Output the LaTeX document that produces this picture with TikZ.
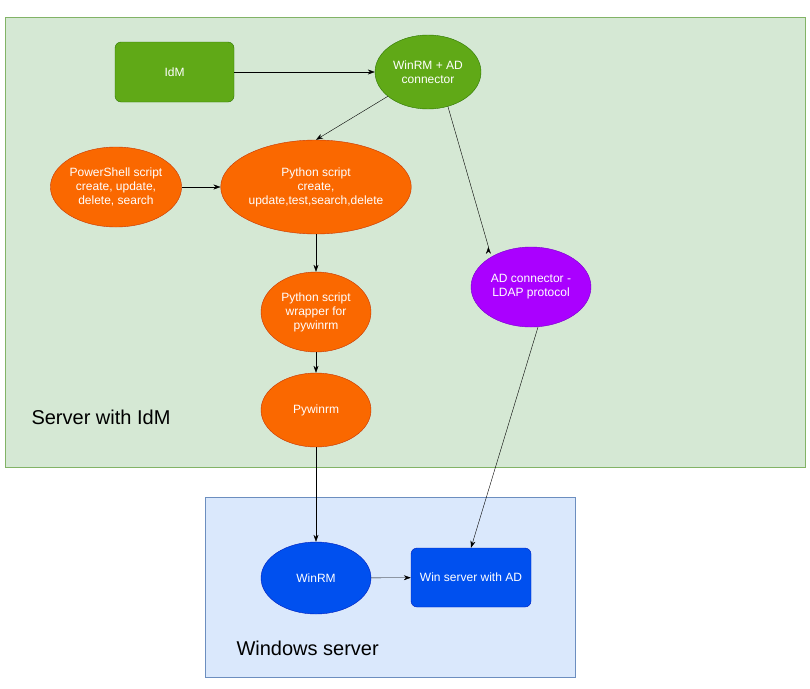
\documentclass[tikz,border=0pt]{standalone}
\usepackage{fontspec}
\setmainfont{Liberation Sans}
\usetikzlibrary{shapes.geometric,calc,arrows.meta}
\definecolor{gbg}{HTML}{D5E8D4}\definecolor{gbd}{HTML}{82B366}
\definecolor{bbg}{HTML}{DAE8FC}\definecolor{bbd}{HTML}{6C8EBF}
\definecolor{gf}{HTML}{60A917}\definecolor{gd}{HTML}{2D7600}
\definecolor{of}{HTML}{FA6800}\definecolor{od}{HTML}{C73500}
\definecolor{pf}{HTML}{AA00FF}\definecolor{pd}{HTML}{7700CC}
\definecolor{bf}{HTML}{0050EF}\definecolor{bd}{HTML}{001DBC}
\begin{document}
\begin{tikzpicture}[x=1pt,y=-1pt,
 txt/.style={text=white,font=\fontsize{12}{14}\selectfont,align=center,inner sep=0pt},
 ell/.style={txt,ellipse,minimum width=#1},
 gr/.style={fill=gf,draw=gd}, orn/.style={fill=of,draw=od},
 pur/.style={fill=pf,draw=pd}, blu/.style={fill=bf,draw=bd},
 arr/.style={-{Stealth[length=7pt,width=5pt]},black}]
\useasboundingbox (0,0) rectangle (810,688);
\draw[fill=gbg,draw=gbd] (5,17) rectangle (805,467);
\draw[fill=bbg,draw=bbd] (205,497) rectangle (575,677);
\node[anchor=west,font=\fontsize{20}{24}\selectfont] (l1) at (28,417) {Server with IdM};
\node[anchor=west,font=\fontsize{20}{24}\selectfont] (l2) at (233,648) {Windows server};
\node[txt,gr,rounded corners=6pt,minimum width=119,minimum height=60] (idm) at (174.5,72) {IdM};
\node[ell=106,minimum height=74,gr] (wad) at (428,72) {WinRM + AD\\connector};
\node[ell=122,minimum height=80,orn] (ps) at (116,187) {PowerShell script\\create, update,\\delete, search};
\node[ell=164,minimum height=94,orn] (py) at (316,187) {Python script\\create,\\update,test,search,delete};
\node[ell=110,minimum height=80,orn] (wr) at (316,312) {Python script\\wrapper for\\pywinrm};
\node[ell=110,minimum height=74,orn] (pw) at (316,410) {Pywinrm};
\node[ell=120,minimum height=80,pur] (ad) at (531,287) {AD connector -\\LDAP protocol};
\node[ell=110,minimum height=72,blu] (wi) at (316,578) {WinRM};
\node[txt,blu,rounded corners=6pt,minimum width=120,minimum height=59] (ws) at (471,577.5) {Win server with AD};
\draw[arr] (idm) -- (wad);
\draw[arr] (wad) -- (py.north);
\draw[arr] (wad.-60) -- (ad.north west |- ad.north) ++(0,0);
\draw[arr] (ps) -- (py);
\draw[arr] (py) -- (wr);
\draw[arr] (wr) -- (pw);
\draw[arr] (pw) -- (wi);
\draw[arr] (wi) -- (ws);
\draw[arr] (ad.-80) -- (ws.north);
\end{tikzpicture}
\end{document}
